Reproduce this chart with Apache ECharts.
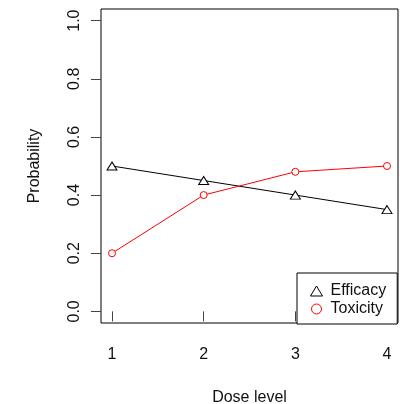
<!DOCTYPE html>
<html>
<head>
<meta charset="utf-8">
<script src="https://cdn.jsdelivr.net/npm/echarts@6/dist/echarts.min.js"></script>
<style>html,body{margin:0;padding:0;background:#fff;}#c{width:400px;height:404px;}</style>
</head>
<body>
<div id="c"></div>
<script>
var doseLevels = [1, 2, 3, 4];
var efficacy = [0.50, 0.45, 0.40, 0.35];
var toxicity = [0.20, 0.40, 0.48, 0.50];
var xTicks = [1, 2, 3, 4];
var yTicks = [0, 0.2, 0.4, 0.6, 0.8, 1.0];
var seriesNames = ['Efficacy', 'Toxicity'];

var FONT = '"Liberation Sans", Arial, sans-serif';
function pairs(vals) { return doseLevels.map(function (d, i) { return [d, vals[i]]; }); }

var chart = echarts.init(document.getElementById('c'), null, { renderer: 'canvas' });
chart.setOption({
  animation: false,
  backgroundColor: '#fff',
  textStyle: { fontFamily: FONT },
  grid: { left: 101, right: 2, top: 9, bottom: 81, containLabel: false, outerBoundsMode: 'none', show: true, borderColor: '#000', borderWidth: 1, backgroundColor: 'transparent' },
  xAxis: {
    type: 'value', min: 0.88, max: 4.12,
    splitLine: { show: false },
    axisLine: { show: false },
    axisTick: { show: true, customValues: xTicks, length: 10, lineStyle: { color: '#444', width: 1 } },
    axisLabel: { show: true, customValues: xTicks, margin: 24, fontSize: 16, color: '#111', fontFamily: FONT, formatter: function (v) { return String(v); } },
    name: 'Dose level', nameLocation: 'middle', nameGap: 67,
    nameTextStyle: { fontSize: 16, color: '#111', fontFamily: FONT }
  },
  yAxis: {
    type: 'value', min: -0.04, max: 1.04,
    splitLine: { show: false },
    axisLine: { show: false },
    axisTick: { show: true, customValues: yTicks, length: 10, lineStyle: { color: '#444', width: 1 } },
    axisLabel: { show: true, customValues: yTicks, rotate: 90, margin: 18, fontSize: 16, color: '#111', fontFamily: FONT, formatter: function (v) { return v.toFixed(1); } },
    name: 'Probability', nameLocation: 'middle', nameGap: 58,
    nameTextStyle: { fontSize: 16, color: '#111', fontFamily: FONT }
  },
  legend: {
    orient: 'vertical', left: 297, top: 273,
    padding: [10, 11, 7, 13], itemGap: 2,
    itemWidth: 12, itemHeight: 10,
    backgroundColor: '#fff', borderColor: '#000', borderWidth: 1, borderRadius: 0,
    textStyle: { fontSize: 16, color: '#111', fontFamily: FONT, padding: [0, 0, 0, 3] },
    data: [
      { name: seriesNames[0], icon: 'triangle', itemStyle: { color: '#fff', borderColor: '#000', borderWidth: 1 } },
      { name: seriesNames[1], icon: 'circle', symbolSize: 7, itemStyle: { color: '#fff', borderColor: '#ff0000', borderWidth: 1 } }
    ]
  },
  series: [
    {
      name: seriesNames[0], type: 'line', data: pairs(efficacy),
      symbol: 'triangle', symbolSize: [10, 8], showAllSymbol: true,
      lineStyle: { color: '#000', width: 1 },
      itemStyle: { color: '#fff', borderColor: '#000', borderWidth: 1 }
    },
    {
      name: seriesNames[1], type: 'line', data: pairs(toxicity),
      symbol: 'circle', symbolSize: 7, showAllSymbol: true,
      lineStyle: { color: '#ff0000', width: 1 },
      itemStyle: { color: '#fff', borderColor: '#ff0000', borderWidth: 1 }
    }
  ]
});
</script>
</body>
</html>
